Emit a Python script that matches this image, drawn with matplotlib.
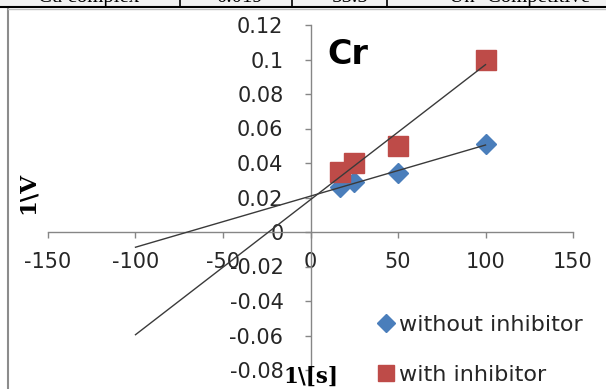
import matplotlib
matplotlib.use("Agg")
import matplotlib.pyplot as plt
from matplotlib.patches import Rectangle
from matplotlib.lines import Line2D
import numpy as np

# ---- data ----
inv_s = [16.67, 25, 50, 100]
without_inh = [0.026, 0.029, 0.034, 0.051]
with_inh = [0.035, 0.040, 0.050, 0.100]
x_ticks = [-150, -100, -50, 0, 50, 100, 150]
y_ticks = [-0.08, -0.06, -0.04, -0.02, 0, 0.02, 0.04, 0.06, 0.08, 0.1, 0.12]
y_tick_labels = ["-0.08", "-0.06", "-0.04", "-0.02", "0", "0.02", "0.04", "0.06", "0.08", "0.1", "0.12"]
table_cells = ["Cu complex", "0.019", "55.5", "Un- Competitive"]
series_names = ["without inhibitor", "with inhibitor"]
trend_range = [-100, 100]

W, H = 606, 389
fig = plt.figure(figsize=(W / 100, H / 100), dpi=100)
fig.patch.set_facecolor("white")

def fx(px):
    return px / W

def fy(py):
    return 1 - py / H

# table row remnant at top
fig.patches.append(Rectangle((0, fy(7)), 1, 7 / H, transform=fig.transFigure,
                             facecolor="#f2f2f2", edgecolor="none", zorder=0))
fig.add_artist(Line2D([0, 1], [fy(7), fy(7)], transform=fig.transFigure, color="black", lw=1.5))
for px in [180, 292, 387]:
    fig.add_artist(Line2D([fx(px), fx(px)], [fy(7), 1], transform=fig.transFigure, color="black", lw=1.2))
for txt, cx in zip(table_cells, [89, 240, 350, 520]):
    fig.text(fx(cx), fy(2), txt, ha="center", va="baseline", fontsize=15,
             family="Liberation Serif", color="black")

# chart frame
fig.add_artist(Line2D([fx(8), fx(8)], [0, fy(9)], transform=fig.transFigure, color="#8c8c8c", lw=1.5))
fig.add_artist(Line2D([fx(8), 1], [fy(9), fy(9)], transform=fig.transFigure, color="#bfbfbf", lw=1))

ax = fig.add_axes([fx(48), fy(370), fx(573) - fx(48), fy(25) - fy(370)])
ax.set_xlim(-150, 150)
ax.set_ylim(-0.08, 0.12)
ax.patch.set_alpha(0)

for side in ["top", "right"]:
    ax.spines[side].set_visible(False)
ax.spines["left"].set_position(("data", 0))
ax.spines["bottom"].set_position(("data", 0))
for side in ["left", "bottom"]:
    ax.spines[side].set_color("#868686")
    ax.spines[side].set_linewidth(1)

ax.set_xticks(x_ticks)
ax.set_xticklabels([str(v) for v in x_ticks])
ax.set_yticks(y_ticks)
ax.set_yticklabels(y_tick_labels)
ax.tick_params(axis="both", direction="out", length=4.5, width=1, color="#868686",
               labelsize=15, labelcolor="#262626")
ax.tick_params(axis="y", pad=15)
ax.tick_params(axis="x", pad=10)
for lab in ax.get_xticklabels() + ax.get_yticklabels():
    lab.set_family("DejaVu Sans")

blue = "#4a7ebb"
red = "#be4b48"

# trendlines (least squares, extended to trend_range)
xs = np.array(trend_range, dtype=float)
for yv in [without_inh, with_inh]:
    k, b = np.polyfit(inv_s, yv, 1)
    ax.plot(xs, k * xs + b, color="#3a3a3a", lw=1, zorder=3)

ax.plot(inv_s, without_inh, linestyle="none", marker="D", ms=10.5, color=blue,
        markeredgecolor=blue, label=series_names[0], zorder=2)
ax.plot(inv_s, with_inh, linestyle="none", marker="s", ms=14, color=red,
        markeredgecolor=red, label=series_names[1], zorder=2)

ax.text(fx(327), fy(55), "Cr", transform=fig.transFigure, fontsize=24, fontweight="bold",
        family="DejaVu Sans", va="center", ha="left")

# axis titles
fig.text(fx(28), fy(193), "1\\V", rotation=90, fontsize=16.5, fontweight="bold",
         family="DejaVu Serif", ha="center", va="center")
fig.text(fx(311), fy(377), "1\\[s]", fontsize=15.5, fontweight="bold",
         family="DejaVu Serif", ha="center", va="center")

leg = ax.legend(loc="upper left", bbox_to_anchor=(fx(376), fy(315)), bbox_transform=fig.transFigure,
                frameon=False, prop={"family": "DejaVu Sans", "size": 16}, handletextpad=0.15,
                labelspacing=1.35, handlelength=0.9, borderaxespad=0, borderpad=0,
                markerscale=0.85)
for t in leg.get_texts():
    t.set_color("#262626")

fig.savefig("out.png", dpi=100)
